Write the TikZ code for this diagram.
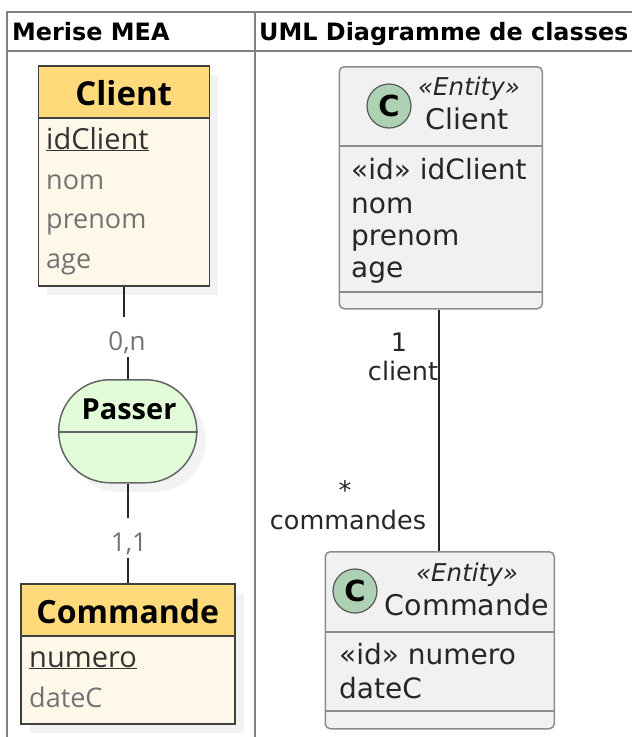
\documentclass[tikz,border=0pt]{standalone}
\usepackage{fontspec}
\usepackage{tikz}
\usetikzlibrary{shadows}
\setmainfont{DejaVu Sans}
\newfontfamily\meafont{Open Sans}

\definecolor{entete}{HTML}{FFDA7A}
\definecolor{corps}{HTML}{FDF8E8}
\definecolor{assoc}{HTML}{E2FBD8}
\definecolor{grisuml}{HTML}{F1F1F1}
\definecolor{vertc}{HTML}{ADD1B2}

\tikzset{
	ombre/.style={drop shadow={shadow xshift=9pt, shadow yshift=-9pt, fill=black!5, opacity=1}},
	meabox/.style={draw=black!75, line width=1.5pt, fill=corps, ombre, anchor=north west, inner sep=0pt},
	meahead/.style={draw=black!75, line width=1.5pt, fill=entete, anchor=north west, inner sep=0pt, text height=28pt, text depth=0pt},
	meakey/.style={anchor=base west, inner sep=0pt, text=black!80, font=\meafont\fontsize{29}{29}\selectfont},
	meaattr/.style={anchor=base west, inner sep=0pt, text=black!55, font=\meafont\fontsize{27}{27}\selectfont},
	card/.style={text=black!55, inner sep=0pt, minimum height=40pt, text height=30pt, text depth=4pt, font=\meafont\fontsize{26}{26}\selectfont},
	lien/.style={line width=1.5pt, black!85},
	umlbox/.style={draw=black!45, line width=1.5pt, fill=grisuml, rounded corners=5pt, anchor=north west, inner sep=0pt},
	umlsep/.style={black!45, line width=1.5pt},
	umlrole/.style={inner sep=0pt, text=black!85, font=\fontsize{25.5}{25.5}\selectfont},
	umlname/.style={inner sep=0pt, text=black!85, font=\fontsize{28.5}{28.5}\selectfont},
	umlattr/.style={anchor=base west, inner sep=0pt, text=black!85, font=\fontsize{28}{28}\selectfont},
	stereo/.style={inner sep=0pt, text=black!85, font=\itshape\fontsize{24.5}{24.5}\selectfont},
	badge/.style={circle, draw=black!65, line width=1.2pt, fill=vertc, minimum size=44pt, inner sep=0pt, font=\bfseries\fontsize{29}{29}\selectfont},
	titre/.style={anchor=base west, inner sep=0pt, font=\bfseries\fontsize{23.9}{23.9}\selectfont},
	grille/.style={black!50, line width=2pt}
}

\begin{document}
\begin{tikzpicture}[x=1pt, y=-1pt]
	\useasboundingbox (0,0) rectangle (632,737);
	
	% Tableau
	\draw[grille] (632,12) -- (7,12) -- (7,737);
	\draw[grille] (7,51) -- (632,51);
	\draw[grille] (255,12) -- (255,737);
	\node[titre] (titreMea) at (12,40.5) {Merise MEA};
	\node[titre] (titreUml) at (259,40.5) {UML Diagramme de classes};
	
	% Merise : entite Client
	\node[meabox, minimum width=171pt, minimum height=220pt] (client) at (37.5,65) {};
	\node[meahead, minimum width=171pt, minimum height=52pt, font=\meafont\bfseries\fontsize{33}{33}\selectfont] (clientHead) at (37.5,65) {Client};
	\node[meakey] (idClient) at (46,149) {\underline{idClient}};
	\node[meaattr] (nom) at (46,189) {nom};
	\node[meaattr] (prenom) at (46,228) {prenom};
	\node[meaattr] (age) at (46,268) {age};
	
	% Merise : association Passer
	\node[meabox, draw=black!60, fill=assoc, rounded corners=51pt, minimum width=138pt, minimum height=103pt] (passer) at (58,379) {};
	\draw[lien, black!60] (passer.west |- 0,432) -- (passer.east |- 0,432);
	\node[inner sep=0pt, font=\meafont\bfseries\fontsize{29}{29}\selectfont] (passerTxt) at (129,409) {Passer};
	
	% Merise : entite Commande
	\node[meabox, minimum width=214pt, minimum height=140pt] (commande) at (20,583) {};
	\node[meahead, minimum width=214pt, minimum height=52pt, font=\meafont\bfseries\fontsize{32}{32}\selectfont] (commandeHead) at (20,583) {Commande};
	\node[meakey] (numero) at (29,667) {\underline{numero}};
	\node[meaattr] (dateC) at (29,707) {dateC};
	
	% Merise : cardinalites et liens
	\node[card] (cardClient) at (127,337) {0,n};
	\node[card] (cardCommande) at (129,538) {1,1};
	\draw[lien] (client.south) -- (client.south |- cardClient.north);
	\draw[lien] (passer.north |- cardClient.south) -- (passer.north);
	\draw[lien] (passer.south) -- (passer.south |- cardCommande.north);
	\draw[lien] (passer.south |- cardCommande.south) -- (passer.south |- commande.north);
	
	% UML : classe Client
	\node[umlbox, minimum width=203pt, minimum height=242pt] (classeClient) at (338.5,66) {};
	\draw[umlsep] (338.5,146) -- (541.5,146);
	\draw[umlsep] (338.5,292) -- (541.5,292);
	\node[badge] (badgeClient) at (389,106) {C};
	\node[stereo] (stereoClient) at (469,89) {«Entity»};
	\node[umlname] (nomClient) at (467,119) {Client};
	\node[umlattr] (attrIdClient) at (351,179) {«id» idClient};
	\node[umlattr] (attrNom) at (351,213) {nom};
	\node[umlattr] (attrPrenom) at (351,245) {prenom};
	\node[umlattr] (attrAge) at (351,277) {age};
	
	% UML : classe Commande
	\node[umlbox, minimum width=229pt, minimum height=177pt] (classeCommande) at (324.5,551) {};
	\draw[umlsep] (324.5,632) -- (553.5,632);
	\draw[umlsep] (324.5,711) -- (553.5,711);
	\node[badge] (badgeCommande) at (355,591) {C};
	\node[stereo] (stereoCommande) at (467,575) {«Entity»};
	\node[umlname] (nomCommande) at (467,605) {Commande};
	\node[umlattr] (attrNumero) at (339,664) {«id» numero};
	\node[umlattr] (attrDate) at (339,698) {dateC};
	
	% UML : association et roles
	\draw[lien] (classeClient.south -| 439,0) -- (classeCommande.north -| 439,0);
	\node[umlrole] (multClient) at (399,342) {1};
	\node[umlrole] (roleClient) at (403,371) {client};
	\node[umlrole] (multCommande) at (345,490) {*};
	\node[umlrole] (roleCommande) at (348,520) {commandes};
\end{tikzpicture}
\end{document}
